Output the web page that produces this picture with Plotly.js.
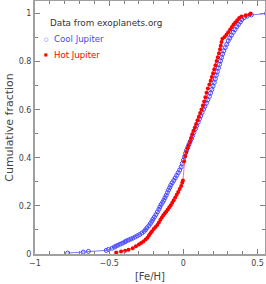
<!DOCTYPE html>
<html><head><meta charset="utf-8">
<script src="https://cdn.plot.ly/plotly-3.0.1.min.js"></script>
<style>html,body{margin:0;padding:0;background:#fff;}#chart{width:266px;height:284px;}</style>
</head><body><div id="chart"></div>
<script>
const coolFeH = [-0.78,-0.675,-0.64,-0.52,-0.505,-0.48,-0.465,-0.453,-0.44,-0.425,-0.41,-0.395,-0.385,-0.37,-0.355,-0.34,-0.325,-0.31,-0.295,-0.28,-0.265,-0.255,-0.245,-0.232,-0.222,-0.212,-0.205,-0.195,-0.185,-0.175,-0.165,-0.158,-0.150,-0.140,-0.132,-0.124,-0.116,-0.108,-0.100,-0.092,-0.085,-0.075,-0.065,-0.055,-0.045,-0.035,-0.025,-0.015,-0.008,0.000,0.008,0.015,0.022,0.030,0.038,0.046,0.055,0.063,0.072,0.081,0.090,0.100,0.108,0.117,0.126,0.136,0.145,0.155,0.165,0.175,0.183,0.192,0.200,0.208,0.215,0.222,0.229,0.236,0.243,0.250,0.257,0.264,0.272,0.282,0.292,0.302,0.313,0.324,0.336,0.348,0.360,0.372,0.384,0.395,0.410,0.430,0.458,0.56];
const coolFrac = [0.004,0.008,0.011,0.015,0.019,0.024,0.029,0.033,0.037,0.041,0.045,0.050,0.054,0.058,0.062,0.066,0.071,0.076,0.081,0.087,0.094,0.101,0.109,0.118,0.127,0.136,0.145,0.154,0.164,0.175,0.186,0.196,0.206,0.215,0.224,0.234,0.244,0.255,0.266,0.276,0.286,0.296,0.306,0.316,0.327,0.338,0.349,0.362,0.376,0.390,0.405,0.420,0.432,0.444,0.456,0.468,0.480,0.493,0.506,0.520,0.534,0.548,0.561,0.574,0.588,0.602,0.614,0.627,0.641,0.655,0.669,0.684,0.698,0.713,0.728,0.743,0.758,0.773,0.788,0.803,0.817,0.831,0.845,0.858,0.872,0.886,0.898,0.910,0.922,0.933,0.945,0.955,0.965,0.975,0.983,0.989,0.994,1.0];
const hotFeH = [-0.453,-0.42,-0.393,-0.37,-0.342,-0.32,-0.30,-0.285,-0.27,-0.255,-0.242,-0.232,-0.222,-0.212,-0.200,-0.188,-0.176,-0.165,-0.155,-0.145,-0.135,-0.125,-0.115,-0.105,-0.095,-0.085,-0.075,-0.065,-0.055,-0.045,-0.035,-0.025,-0.015,-0.008,-0.003,0.005,0.012,0.020,0.028,0.035,0.045,0.052,0.060,0.068,0.077,0.086,0.095,0.104,0.113,0.122,0.131,0.140,0.148,0.156,0.165,0.175,0.184,0.192,0.200,0.208,0.216,0.224,0.232,0.240,0.247,0.252,0.257,0.263,0.278,0.290,0.302,0.315,0.327,0.338,0.350,0.363,0.376,0.391,0.420,0.447,0.453];
const hotFrac = [0.006,0.010,0.014,0.018,0.024,0.032,0.040,0.046,0.052,0.060,0.068,0.077,0.086,0.095,0.104,0.112,0.121,0.131,0.142,0.152,0.161,0.169,0.177,0.185,0.194,0.203,0.213,0.224,0.235,0.246,0.258,0.270,0.283,0.296,0.306,0.385,0.408,0.424,0.440,0.452,0.466,0.482,0.498,0.512,0.526,0.541,0.556,0.571,0.586,0.601,0.617,0.634,0.652,0.670,0.688,0.705,0.720,0.736,0.752,0.768,0.785,0.802,0.818,0.835,0.851,0.866,0.882,0.895,0.902,0.912,0.922,0.933,0.944,0.954,0.963,0.972,0.981,0.988,0.993,0.996,1.0];
const xTicks = [-1,-0.5,0,0.5];
const xTickText = ['\u22121','\u22120.5','0','0.5'];
const yTicks = [0,0.2,0.4,0.6,0.8,1];
const yTickText = ['0','0.2','0.4','0.6','0.8','1'];

const FONT = 'DejaVu Sans';
const traces = [
  {x: coolFeH, y: coolFrac, type:'scatter', mode:'lines+markers', name:'Cool Jupiter',
   line:{color:'rgba(100,100,255,0.85)', width:1},
   marker:{symbol:'circle-open', size:4, color:'rgb(70,70,255)', line:{width:1, color:'rgb(70,70,255)'}}, cliponaxis:true},
  {x: hotFeH, y: hotFrac, type:'scatter', mode:'lines+markers', name:'Hot Jupiter',
   line:{color:'rgba(255,90,90,0.85)', width:1},
   marker:{symbol:'circle', size:4, color:'rgb(255,0,0)'}, cliponaxis:true}
];
const axisCommon = {
  showgrid:false, zeroline:false, showline:true, linecolor:'#a0a0a0', linewidth:2,
  mirror:'allticks', ticks:'inside', ticklen:5, tickwidth:1, tickcolor:'#808080',
  tickfont:{family:FONT, size:8, color:'#444'}
};
const layout = {
  width:266, height:284, margin:{l:35, r:1, t:1, b:30},
  paper_bgcolor:'#fff', plot_bgcolor:'#fff', showlegend:false,
  xaxis: Object.assign({}, axisCommon, {range:[-1,0.55], tickmode:'array', tickvals:xTicks, ticktext:xTickText,
    minor:{dtick:0.1, tick0:0, ticklen:3, ticks:'inside', tickcolor:'#808080'},
    title:{text:'[Fe/H]', font:{family:FONT, size:10, color:'#444'}, standoff:6}}),
  yaxis: Object.assign({}, axisCommon, {range:[0,1.052], tickmode:'array', tickvals:yTicks, ticktext:yTickText,
    minor:{dtick:0.1, tick0:0, ticklen:3, ticks:'inside', tickcolor:'#808080'},
    title:{text:'Cumulative fraction', font:{family:FONT, size:11, color:'#444'}, standoff:3}}),
  annotations:[
    {xref:'paper', yref:'paper', x:0.055, y:0.912, xanchor:'left', yanchor:'middle', showarrow:false,
     text:'Data from exoplanets.org', font:{family:FONT, size:8.8, color:'#333'}},
    {xref:'paper', yref:'paper', x:0.03, y:0.848, xanchor:'left', yanchor:'middle', showarrow:false,
     text:'\u25cb', font:{family:FONT, size:5, color:'rgb(70,70,255)'}},
    {xref:'paper', yref:'paper', x:0.075, y:0.848, xanchor:'left', yanchor:'middle', showarrow:false,
     text:'Cool Jupiter', font:{family:FONT, size:8.6, color:'rgb(70,70,255)'}},
    {xref:'paper', yref:'paper', x:0.03, y:0.787, xanchor:'left', yanchor:'middle', showarrow:false,
     text:'\u25a0', font:{family:FONT, size:4, color:'rgb(255,0,0)'}},
    {xref:'paper', yref:'paper', x:0.075, y:0.787, xanchor:'left', yanchor:'middle', showarrow:false,
     text:'Hot Jupiter', font:{family:FONT, size:8.6, color:'rgb(255,0,0)'}}
  ]
};
Plotly.newPlot('chart', traces, layout, {staticPlot:true, displayModeBar:false});
</script>
</body></html>
